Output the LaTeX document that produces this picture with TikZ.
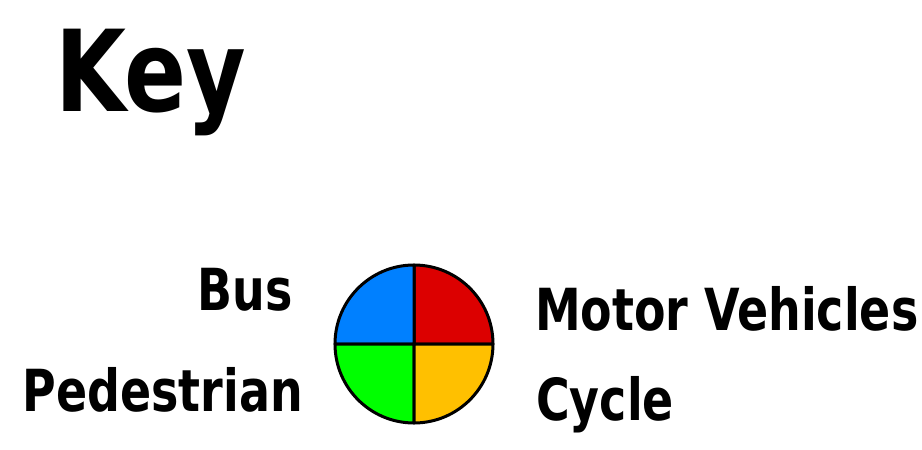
\documentclass[tikz,border=0pt]{standalone}
\usepackage{fontspec}
\setmainfont{DejaVu Sans Condensed}[FakeStretch=0.88]
\newfontfamily\keyfont{DejaVu Sans Condensed}[FakeStretch=0.9]
\usetikzlibrary{positioning}
\definecolor{busblue}{RGB}{0,128,255}
\definecolor{motorred}{RGB}{220,0,0}
\definecolor{pedgreen}{RGB}{0,255,0}
\definecolor{cycleamber}{RGB}{255,192,0}
\tikzset{
  title/.style={font=\keyfont\fontsize{113}{113}\selectfont\bfseries, inner sep=0pt, anchor=base west},
  lbl/.style={font=\fontsize{58}{58}\selectfont\bfseries, inner sep=0pt},
  quad/.style={draw=black, line width=3pt, line join=round},
}
\begin{document}
\begin{tikzpicture}[x=1pt,y=1pt]
  \useasboundingbox (0,0) rectangle (922,-450);
  \node[title] (key) at (55,-111) {Key};
  \coordinate (pie) at (414,-344);
  \foreach \a/\c in {0/motorred,90/busblue,180/pedgreen,270/cycleamber}{
    \filldraw[quad,fill=\c] (pie) -- ++(\a:79) arc[start angle=\a, delta angle=90, radius=79] -- cycle;
  }
  \node[lbl,anchor=base east] (bus) at (293,-310) {Bus};
  \node[lbl,anchor=base east] (ped) at (303,-411) {Pedestrian};
  \node[lbl,anchor=base west] (motor) at (535,-330) {Motor Vehicles};
  \node[lbl,anchor=base west] (cycle) at (536,-420) {Cycle};
\end{tikzpicture}
\end{document}
